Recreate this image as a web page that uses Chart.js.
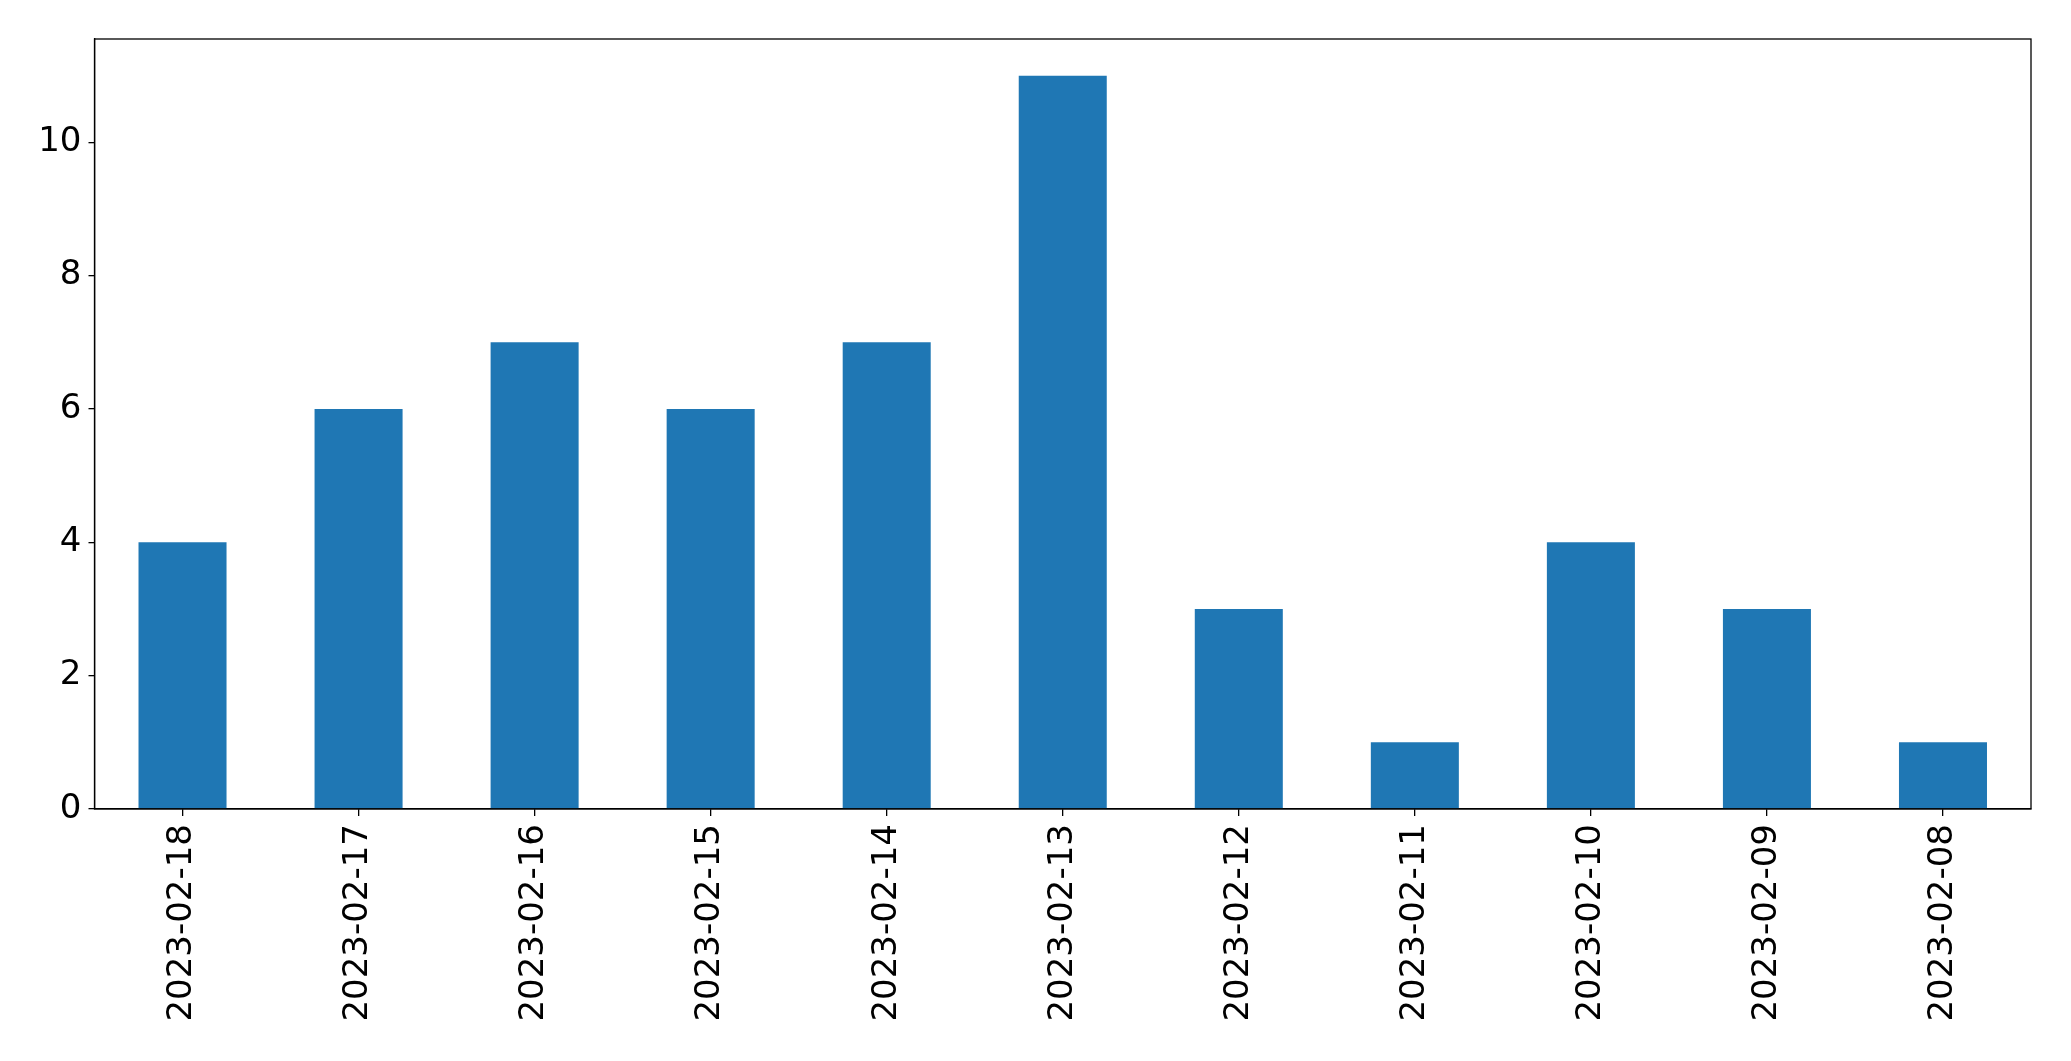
<!DOCTYPE html>
<html>
<head>
<meta charset="utf-8">
<script src="https://cdn.jsdelivr.net/npm/chart.js@4.4.0/dist/chart.umd.min.js"></script>
<style>
html,body{margin:0;padding:0;background:#fff;}
#wrap{width:2071px;height:1061px;position:relative;}
</style>
</head>
<body>
<div id="wrap"><canvas id="c" width="2071" height="1061"></canvas></div>
<script>
const categories = ["2023-02-18","2023-02-17","2023-02-16","2023-02-15","2023-02-14","2023-02-13","2023-02-12","2023-02-11","2023-02-10","2023-02-09","2023-02-08"];
const counts = [4, 6, 7, 6, 7, 11, 3, 1, 4, 3, 1];
const yTicks = [0, 2, 4, 6, 8, 10];

const frame = {
  id: 'frame',
  afterDatasetsDraw(chart) {
    const a = chart.chartArea, ctx = chart.ctx;
    ctx.save();
    ctx.strokeStyle = '#000';
    ctx.lineWidth = 1.3;
    ctx.strokeRect(a.left, a.top, a.right - a.left, a.bottom - a.top);
    ctx.restore();
  }
};

new Chart(document.getElementById('c'), {
  type: 'bar',
  data: {
    labels: categories,
    datasets: [{
      data: counts,
      backgroundColor: '#1f77b4',
      borderWidth: 0,
      barPercentage: 0.5,
      categoryPercentage: 1.0
    }]
  },
  options: {
    responsive: false,
    animation: false,
    devicePixelRatio: 1,
    layout: { padding: { top: 39, right: 40, left: 0, bottom: 0 } },
    plugins: { legend: { display: false }, tooltip: { enabled: false } },
    scales: {
      x: {
        offset: true,
        afterFit(s) { s.height = 252; },
        grid: { display: true, offset: false, drawOnChartArea: false, drawTicks: true, tickLength: 7, color: '#000', lineWidth: 1.3 },
        border: { display: true, color: '#000', width: 1.3 },
        ticks: {
          color: '#000',
          font: { family: 'DejaVu Sans', size: 34 },
          maxRotation: 90, minRotation: 90,
          autoSkip: false,
          padding: 8
        }
      },
      y: {
        min: 0,
        max: 11.55,
        afterFit(s) { s.width = 94.5; },
        afterBuildTicks(s) { s.ticks = yTicks.map(v => ({ value: v })); },
        grid: { display: true, drawOnChartArea: false, drawTicks: true, tickLength: 6, color: '#000', lineWidth: 1.3 },
        border: { display: true, color: '#000', width: 1.3 },
        ticks: {
          color: '#000',
          font: { family: 'DejaVu Sans', size: 34 },
          padding: 7
        }
      }
    }
  },
  plugins: [frame]
});
</script>
</body>
</html>
